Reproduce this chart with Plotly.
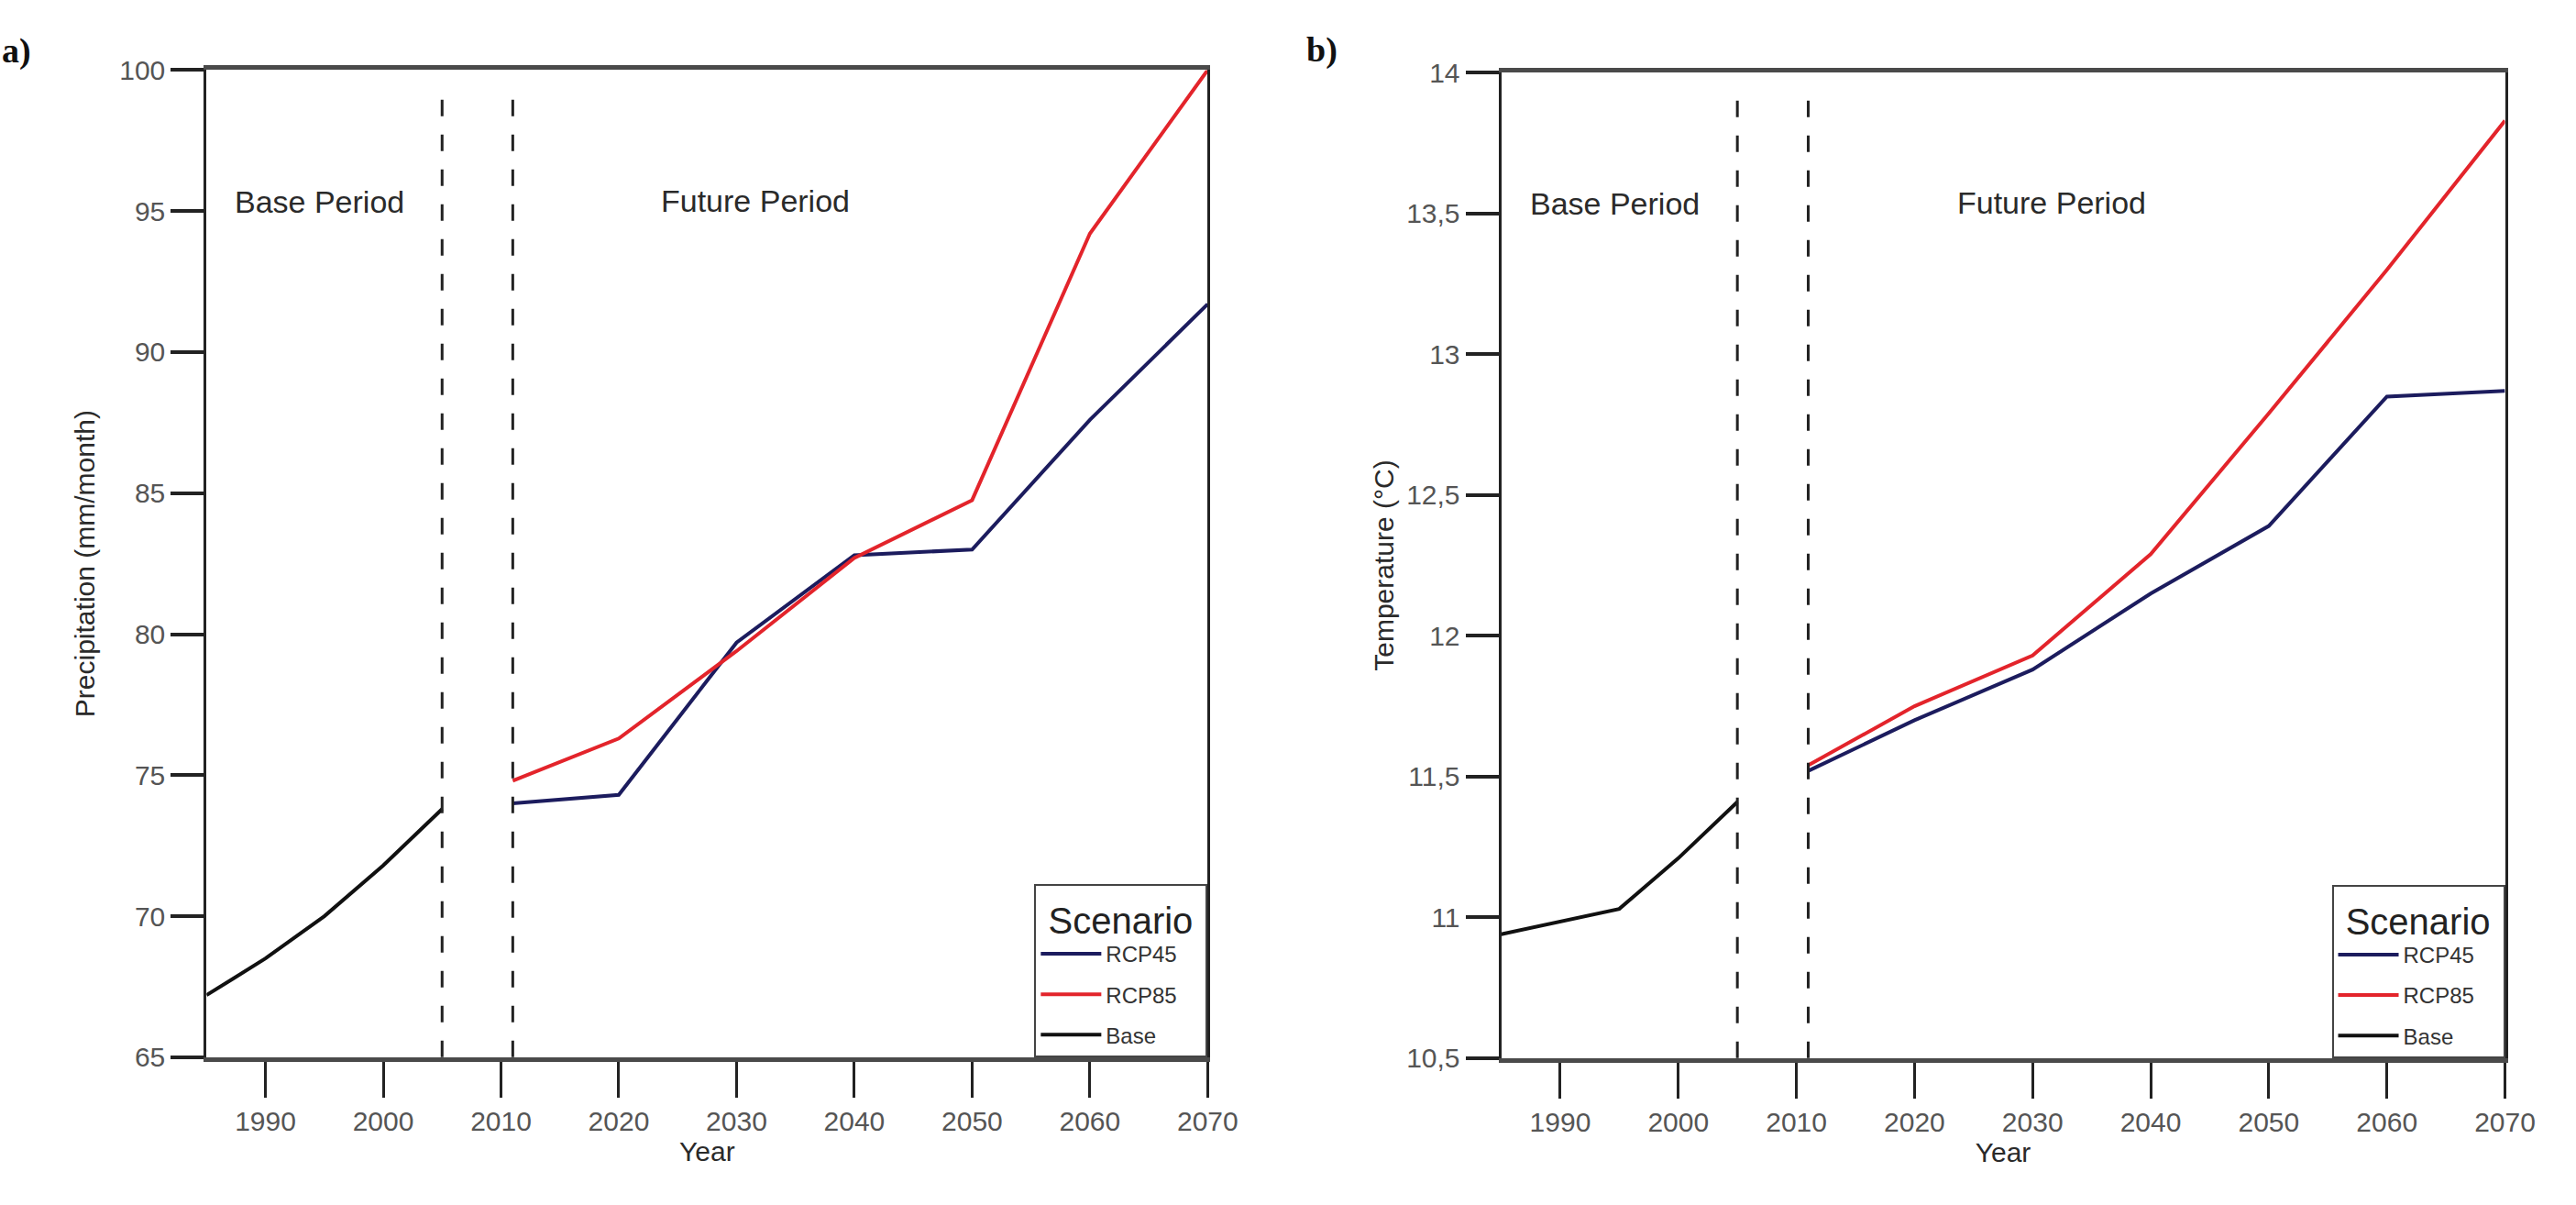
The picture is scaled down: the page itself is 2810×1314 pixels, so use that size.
import plotly.graph_objects as go

# ---------------- data ----------------
base_years = [1985, 1990, 1995, 2000, 2005]
fut_years = [2011, 2020, 2030, 2040, 2050, 2060, 2070]

precip_base = [67.2, 68.5, 70.0, 71.8, 73.8]
precip_rcp45 = [74.0, 74.3, 79.7, 82.8, 83.0, 87.6, 91.7]
precip_rcp85 = [74.8, 76.3, 79.4, 82.7, 84.75, 94.2, 100.0]

temp_base = [10.94, 10.985, 11.03, 11.21, 11.41]
temp_rcp45 = [11.52, 11.70, 11.88, 12.15, 12.39, 12.85, 12.87]
temp_rcp85 = [11.54, 11.75, 11.93, 12.29, 12.79, 13.30, 13.83]

x_ticks = [1990, 2000, 2010, 2020, 2030, 2040, 2050, 2060, 2070]
precip_ticks = [65, 70, 75, 80, 85, 90, 95, 100]
temp_ticks = [10.5, 11, 11.5, 12, 12.5, 13, 13.5, 14]
temp_tick_text = ["10,5", "11", "11,5", "12", "12,5", "13", "13,5", "14"]
period_lines = [2005, 2011]

C45 = "#1c1c5e"
C85 = "#e3242b"
CB = "#111111"

SANS = "Liberation Sans, Arial"
TICKFONT = dict(family=SANS, size=30, color="#555555")
LABFONT = dict(family=SANS, size=30, color="#2a2a2a")

fig = go.Figure()

def add_series(x, y, name, color, xa, ya, legend):
    fig.add_trace(go.Scatter(x=x, y=y, mode="lines", name=name,
                             line=dict(color=color, width=4),
                             xaxis=xa, yaxis=ya, legend=legend,
                             legendgroup=legend + name, showlegend=True))

add_series(fut_years, precip_rcp45, "RCP45", C45, "x", "y", "legend")
add_series(fut_years, precip_rcp85, "RCP85", C85, "x", "y", "legend")
add_series(base_years, precip_base, "Base", CB, "x", "y", "legend")
add_series(fut_years, temp_rcp45, "RCP45", C45, "x2", "y2", "legend2")
add_series(fut_years, temp_rcp85, "RCP85", C85, "x2", "y2", "legend2")
add_series(base_years, temp_base, "Base", CB, "x2", "y2", "legend2")

W, H = 2810, 1314
xl = [228 / W, 1333 / W]
xr = [1657 / W, 2765 / W]
ydl = [1 - 1166 / H, 1 - 61 / H]
ydr = [1 - 1167 / H, 1 - 64 / H]

xaxis_common = dict(range=[1985, 2070], tickvals=x_ticks, ticks="outside", ticklen=39,
                    tickwidth=3, tickcolor="#222", showline=True, linewidth=5, linecolor="#4a4a4a",
                    mirror=True, showgrid=False, zeroline=False, tickfont=TICKFONT,
                    title=dict(text="Year", font=LABFONT, standoff=4))
yaxis_common = dict(ticks="outside", ticklen=36, tickwidth=4, tickcolor="#222", showline=True,
                    linewidth=3, linecolor="#222", mirror=True, showgrid=False, zeroline=False,
                    tickfont=TICKFONT)

def legend_cfg(x, y):
    return dict(x=x, y=y, xanchor="right", yanchor="bottom",
                bgcolor="white", bordercolor="#444", borderwidth=2,
                title=dict(text="&nbsp;Scenario&nbsp;", side="top",
                           font=dict(family=SANS, size=40, color="#222")),
                font=dict(family=SANS, size=24, color="#333"),
                tracegroupgap=10, itemwidth=66)

fig.update_layout(
    width=W, height=H,
    margin=dict(l=0, r=0, t=0, b=0),
    paper_bgcolor="white", plot_bgcolor="white",
    xaxis=dict(domain=xl, anchor="y", **xaxis_common),
    yaxis=dict(domain=ydl, anchor="x", range=[65, 100], tickvals=precip_ticks,
               title=dict(text="Precipitation (mm/month)", font=LABFONT, standoff=18), **yaxis_common),
    xaxis2=dict(domain=xr, anchor="y2", **xaxis_common),
    yaxis2=dict(domain=ydr, anchor="x2", range=[10.5, 14], tickvals=temp_ticks, ticktext=temp_tick_text,
                title=dict(text="Temperature (°C)", font=LABFONT, standoff=5), **yaxis_common),
    legend=legend_cfg(xl[1], ydl[0]),
    legend2=legend_cfg(xr[1], ydr[0]),
)

for xa, ya in (("x", "y"), ("x2", "y2")):
    for xv in period_lines:
        fig.add_shape(type="line", xref=xa, yref=f"{ya} domain", x0=xv, x1=xv, y0=0, y1=0.983,
                      line=dict(color="#222", width=3, dash="18px,20px"))

ann_font = dict(family=SANS, size=34, color="#2a2a2a")
for xa, ya in (("x", "y"), ("x2", "y2")):
    fig.add_annotation(xref=f"{xa} domain", yref=f"{ya} domain", x=0.113, y=0.867,
                       text="Base Period", showarrow=False, font=ann_font,
                       xanchor="center", yanchor="middle")
    fig.add_annotation(xref=f"{xa} domain", yref=f"{ya} domain", x=0.548, y=0.868,
                       text="Future Period", showarrow=False, font=ann_font,
                       xanchor="center", yanchor="middle")

lab_font = dict(family="Liberation Serif, Times New Roman", size=38, color="#111")
fig.add_annotation(xref="paper", yref="paper", x=18 / W, y=1 - 40 / H, text="<b>a)</b>",
                   showarrow=False, font=lab_font, xanchor="center", yanchor="middle")
fig.add_annotation(xref="paper", yref="paper", x=1459 / W, y=1 - 38 / H, text="<b>b)</b>",
                   showarrow=False, font=lab_font, xanchor="center", yanchor="middle")

fig.write_html("out.html", config={"displayModeBar": False},
               post_script="document.body.style.margin='0';")
